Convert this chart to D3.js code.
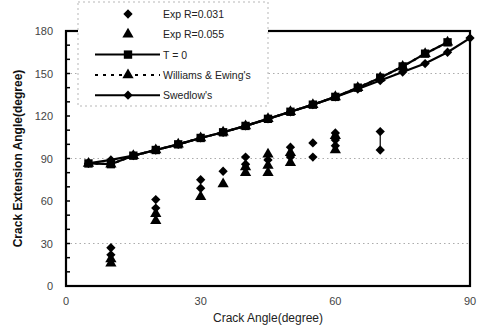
<!DOCTYPE html>
<html lang="en">
<head>
<meta charset="UTF-8">
<title>Crack Extension Angle</title>
<script src="https://cdnjs.cloudflare.com/ajax/libs/d3/7.8.5/d3.min.js"></script>
<style>
    body { margin: 0; background: #fff; }
    svg { font-family: 'Liberation Sans', Arial, sans-serif; }
    .tick-label { font-size: 11px; fill: #444; }
    .legend text { font-size: 10.5px; fill: #222; }
</style>
</head>
<body>
<div id="chart"></div>
<script>
// experimental data (crack angle, extension angle)
const expR031 = [
    [10, 27], [10, 22], [20, 61], [20, 55], [30, 75], [30, 69], [35, 81],
    [40, 91], [40, 86], [45, 89], [50, 98], [50, 91], [55, 101], [55, 91],
    [60, 108], [60, 103], [60, 99], [70, 109], [70, 96]
];
const expR055 = [
    [10, 19], [10, 16], [20, 51], [20, 46], [30, 63], [35, 72],
    [40, 84], [40, 80], [45, 93], [45, 85], [45, 80], [50, 94], [50, 87],
    [60, 106], [60, 96]
];
// theoretical curves
const angles = [5, 10, 15, 20, 25, 30, 35, 40, 45, 50, 55, 60, 65, 70, 75, 80, 85];
const tZero = [86.5, 86, 92, 96, 100, 104.5, 108.5, 113, 118, 123, 128, 133.5, 140, 147, 155, 164, 172];
const williams = [86.5, 86, 92, 96, 100, 104.5, 108.5, 113, 118, 123, 128, 133.5, 140, 147, 155, 164, 172];
const swedAngles = [5, 10, 15, 20, 25, 30, 35, 40, 45, 50, 55, 60, 65, 70, 75, 80, 85, 90];
const swedlow = [86.5, 89, 92, 96, 100, 104.5, 108.5, 113, 118, 123, 128, 133.5, 139, 145, 151, 157, 165, 175];

const xTicks = [0, 30, 60, 90];
const yTicks = [0, 30, 60, 90, 120, 150, 180];
const gridLines = [30, 90, 150];

const W = 479, H = 330;
const margin = { top: 31, right: 9, bottom: 44, left: 66 };

const svg = d3.select("#chart").append("svg")
    .attr("width", W).attr("height", H);

const x = d3.scaleLinear().domain([0, 90]).range([margin.left, W - margin.right]);
const y = d3.scaleLinear().domain([0, 180]).range([H - margin.bottom, margin.top]);

// faint dotted grid
svg.append("g").selectAll("line").data(gridLines).join("line")
    .attr("x1", x(0)).attr("x2", x(90))
    .attr("y1", d => y(d)).attr("y2", d => y(d))
    .attr("stroke", "#888").attr("stroke-width", 0.7)
    .attr("stroke-dasharray", "1.5,3");

// minor ticks inside axes
svg.append("g").selectAll("line").data(d3.range(0, 181, 10)).join("line")
    .attr("x1", x(0)).attr("x2", x(0) + 4)
    .attr("y1", d => y(d)).attr("y2", d => y(d))
    .attr("stroke", "#000").attr("stroke-width", 1.5);

// frame
svg.append("rect")
    .attr("x", x(0)).attr("y", y(180))
    .attr("width", x(90) - x(0)).attr("height", y(0) - y(180))
    .attr("fill", "none").attr("stroke", "#000").attr("stroke-width", 2.2);

// tick labels
svg.append("g").selectAll("text").data(yTicks).join("text")
    .attr("class", "tick-label")
    .attr("x", x(0) - 13).attr("y", d => y(d) + 4)
    .attr("text-anchor", "end")
    .text(d => d);
svg.append("g").selectAll("text").data(xTicks).join("text")
    .attr("class", "tick-label")
    .attr("x", d => x(d)).attr("y", y(0) + 19)
    .attr("text-anchor", "middle")
    .text(d => d);

// axis titles
svg.append("text")
    .attr("x", (x(0) + x(90)) / 2).attr("y", H - 8)
    .attr("text-anchor", "middle")
    .attr("font-size", "12px").attr("fill", "#222")
    .text("Crack Angle(degree)");
svg.append("text")
    .attr("transform", `translate(22,${(y(0) + y(180)) / 2}) rotate(-90)`)
    .attr("text-anchor", "middle")
    .attr("font-size", "12px").attr("font-weight", "bold").attr("fill", "#111")
    .text("Crack Extension Angle(degree)");

const line = d3.line().x(d => x(d[0])).y(d => y(d[1]));
const sym = {
    diamond: d3.symbol().type(d3.symbolDiamond2).size(55),
    triangle: d3.symbol().type(d3.symbolTriangle).size(55),
    square: d3.symbol().type(d3.symbolSquare).size(70)
};

function drawSeries(pts, opts) {
    const g = svg.append("g");
    if (opts.line) {
        g.append("path").datum(pts).attr("d", line)
            .attr("fill", "none").attr("stroke", "#000")
            .attr("stroke-width", 2.2)
            .attr("stroke-dasharray", opts.dash || null);
    }
    g.selectAll("path.m").data(pts).join("path")
        .attr("class", "m")
        .attr("d", sym[opts.symbol])
        .attr("transform", d => `translate(${x(d[0])},${y(d[1])})`)
        .attr("fill", "#000");
}

drawSeries(angles.map((a, i) => [a, williams[i]]), { line: true, dash: "3,4", symbol: "triangle" });
drawSeries(swedAngles.map((a, i) => [a, swedlow[i]]), { line: true, symbol: "diamond" });
drawSeries(angles.map((a, i) => [a, tZero[i]]), { line: true, symbol: "square" });

// thin connector for the 70 degree group
const g70 = expR031.filter(d => d[0] === 70);
svg.append("line")
    .attr("x1", x(70)).attr("x2", x(70))
    .attr("y1", y(d3.min(g70, d => d[1]))).attr("y2", y(d3.max(g70, d => d[1])))
    .attr("stroke", "#000").attr("stroke-width", 1.2);

drawSeries(expR055, { symbol: "triangle" });
drawSeries(expR031, { symbol: "diamond" });

// legend box over the plot corner
const legendItems = [
    { label: "Exp  R=0.031", symbol: "diamond", line: false },
    { label: "Exp  R=0.055", symbol: "triangle", line: false },
    { label: "T = 0", symbol: "square", line: true },
    { label: "Williams & Ewing's", symbol: "triangle", line: true, dash: "3,5" },
    { label: "Swedlow's", symbol: "diamond", line: true }
];
const lg = svg.append("g").attr("class", "legend");
lg.append("rect")
    .attr("x", 78).attr("y", 2).attr("width", 190).attr("height", 104)
    .attr("fill", "#fff").attr("stroke", "#999").attr("stroke-width", 0.7)
    .attr("stroke-dasharray", "2,3");
const rows = lg.selectAll("g").data(legendItems).join("g")
    .attr("transform", (d, i) => `translate(0,${14 + i * 20.3})`);
rows.filter(d => d.line).append("line")
    .attr("x1", 95).attr("x2", 160)
    .attr("stroke", "#000").attr("stroke-width", 2)
    .attr("stroke-dasharray", d => d.dash || null);
rows.append("path")
    .attr("d", d => sym[d.symbol]())
    .attr("transform", "translate(128,0)")
    .attr("fill", "#000");
rows.append("text")
    .attr("x", 163).attr("y", 4)
    .text(d => d.label);
</script>
</body>
</html>
